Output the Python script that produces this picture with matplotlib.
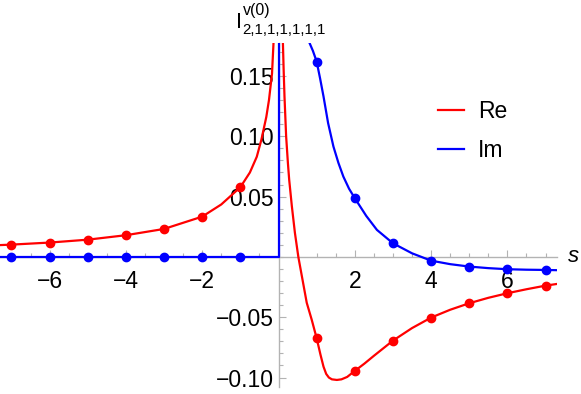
import matplotlib
matplotlib.use("Agg")
import matplotlib.pyplot as plt
from matplotlib.ticker import FixedLocator, MultipleLocator, FixedFormatter

plt.rcParams['font.family'] = ['Liberation Sans', 'DejaVu Sans']

# ---- data ----
s_points = [-7, -6, -5, -4, -3, -2, -1, 1, 2, 3, 4, 5, 6, 7]
re_points = [0.0102, 0.0119, 0.0143, 0.0180, 0.0232, 0.0334, 0.0578,
             -0.0674, -0.0945, -0.0694, -0.0503, -0.0384, -0.0301, -0.0238]
im_points = [0, 0, 0, 0, 0, 0, 0,
             0.162, 0.0487, 0.0113, -0.0031, -0.0080, -0.0102, -0.0108]

# Re curve, s < 0 branch
re_left_s = [-7.3, -7, -6, -5, -4, -3, -2, -1.5, -1, -0.75, -0.57, -0.45,
             -0.32, -0.25, -0.17, -0.13]
re_left_v = [0.0098, 0.0102, 0.0119, 0.0143, 0.0180, 0.0232, 0.0334, 0.0435,
             0.0578, 0.0700, 0.0830, 0.0970, 0.1160, 0.1300, 0.1520, 0.1780]
# Re curve, s > 0 branch
re_right_s = [0.115, 0.135, 0.157, 0.2, 0.246, 0.28, 0.35, 0.43, 0.52, 0.63,
              0.74, 0.87, 1.0, 1.1, 1.18, 1.25, 1.32, 1.4, 1.53, 1.65, 1.8,
              2.0, 2.25, 2.5, 3.0, 3.5, 4.0, 4.5, 5.0, 5.5, 6.0, 6.5, 7.0, 7.3]
re_right_v = [0.178, 0.155, 0.133, 0.100, 0.078, 0.064, 0.042, 0.020, 0.0,
              -0.019, -0.038, -0.052, -0.0674, -0.081, -0.091, -0.097,
              -0.1000, -0.1015, -0.1020, -0.1015, -0.0995, -0.0945, -0.0885,
              -0.0820, -0.0694, -0.0590, -0.0503, -0.0438, -0.0384, -0.0339,
              -0.0301, -0.0268, -0.0238, -0.0224]

# Im curve, s <= 0 branch (zero, then vertical jump at s = 0)
im_left_s = [-7.3, 0.0, 0.0]
im_left_v = [0.0, 0.0, 0.19]
# Im curve, s > 0 branch
im_right_s = [0.805, 0.9, 1.0, 1.09, 1.18, 1.3, 1.44, 1.57, 1.70, 1.85, 2.0,
              2.3, 2.58, 3.0, 3.5, 4.0, 4.5, 5.0, 5.5, 6.0, 6.5, 7.0, 7.3]
im_right_v = [0.178, 0.171, 0.162, 0.148, 0.133, 0.111, 0.0915, 0.0780,
              0.0666, 0.0565, 0.0487, 0.0340, 0.0224, 0.0113, 0.0030,
              -0.0031, -0.0060, -0.0080, -0.0093, -0.0102, -0.0106, -0.0108,
              -0.0110]

x_ticks = [-6, -4, -2, 2, 4, 6]
x_labels = ['\u22126', '\u22124', '\u22122', '2', '4', '6']
y_ticks = [-0.10, -0.05, 0.05, 0.10, 0.15]
y_labels = ['\u22120.10', '\u22120.05', '0.05', '0.10', '0.15']

RED = (1, 0, 0)
BLUE = (0, 0, 1)
GRAY = '#b3b3b3'
W, H = 581, 394

fig = plt.figure(figsize=(5.81, 3.94), dpi=100)
ax = fig.add_axes([0.0, 0.0173, 0.9587, 0.874])
ax.set_xlim(-7.3, 7.3)
ax.set_ylim(-0.108, 0.1775)

ax.plot(re_left_s, re_left_v, color=RED, lw=1.6, label='Re', zorder=3)
ax.plot(re_right_s, re_right_v, color=RED, lw=1.6, zorder=3)
ax.plot(im_left_s, im_left_v, color=BLUE, lw=1.6, label='Im', zorder=3)
ax.plot(im_right_s, im_right_v, color=BLUE, lw=1.6, zorder=3)
ax.plot(s_points, re_points, 'o', color=RED, ms=6, zorder=4)
ax.plot(s_points, im_points, 'o', color=BLUE, ms=6, zorder=4)

for side in ('top', 'right'):
    ax.spines[side].set_visible(False)
ax.spines['left'].set_position(('data', 0))
ax.spines['bottom'].set_position(('data', 0))
for side in ('left', 'bottom'):
    ax.spines[side].set_color(GRAY)
    ax.spines[side].set_linewidth(1.0)
    ax.spines[side].set_zorder(1)

ax.xaxis.set_major_locator(FixedLocator(x_ticks))
ax.xaxis.set_major_formatter(FixedFormatter(x_labels))
ax.xaxis.set_minor_locator(MultipleLocator(0.5))
ax.yaxis.set_major_locator(FixedLocator(y_ticks))
ax.yaxis.set_major_formatter(FixedFormatter(y_labels))
ax.yaxis.set_minor_locator(MultipleLocator(0.01))

ax.tick_params(which='both', direction='in', color=GRAY, width=0.8,
               labelsize=16.5, labelcolor='black')
ax.tick_params(which='major', length=5)
ax.tick_params(which='minor', length=3)
ax.tick_params(axis='x', which='major', pad=9.5)
ax.tick_params(axis='y', which='major', pad=3.5)
for lab in ax.get_yticklabels():
    lab.set_zorder(5)

# axis label  I^{v(0)}_{2,1,1,1,1,1,1}, composed from three text pieces
fig.text(236 / W, 1 - 28.5 / H, 'I', ha='left', va='baseline', fontsize=15.5)
fig.text(242.5 / W, 1 - 14.5 / H, 'v(0)', ha='left', va='baseline', fontsize=11.5)
fig.text(242.5 / W, 1 - 33.5 / H, '2,1,1,1,1,1,1', ha='left', va='baseline',
         fontsize=10.8)
ax.text(7.3 + 0.42, 0.0, 's', ha='center', va='center', fontsize=16,
        style='italic', clip_on=False)

ax.legend(loc='center left', bbox_to_anchor=(0.7539, 0.667),
          bbox_transform=fig.transFigure, frameon=False, fontsize=16.5,
          handlelength=1.13, handletextpad=0.6, labelspacing=0.70,
          borderpad=0, borderaxespad=0)

fig.savefig('out.png', dpi=100)
